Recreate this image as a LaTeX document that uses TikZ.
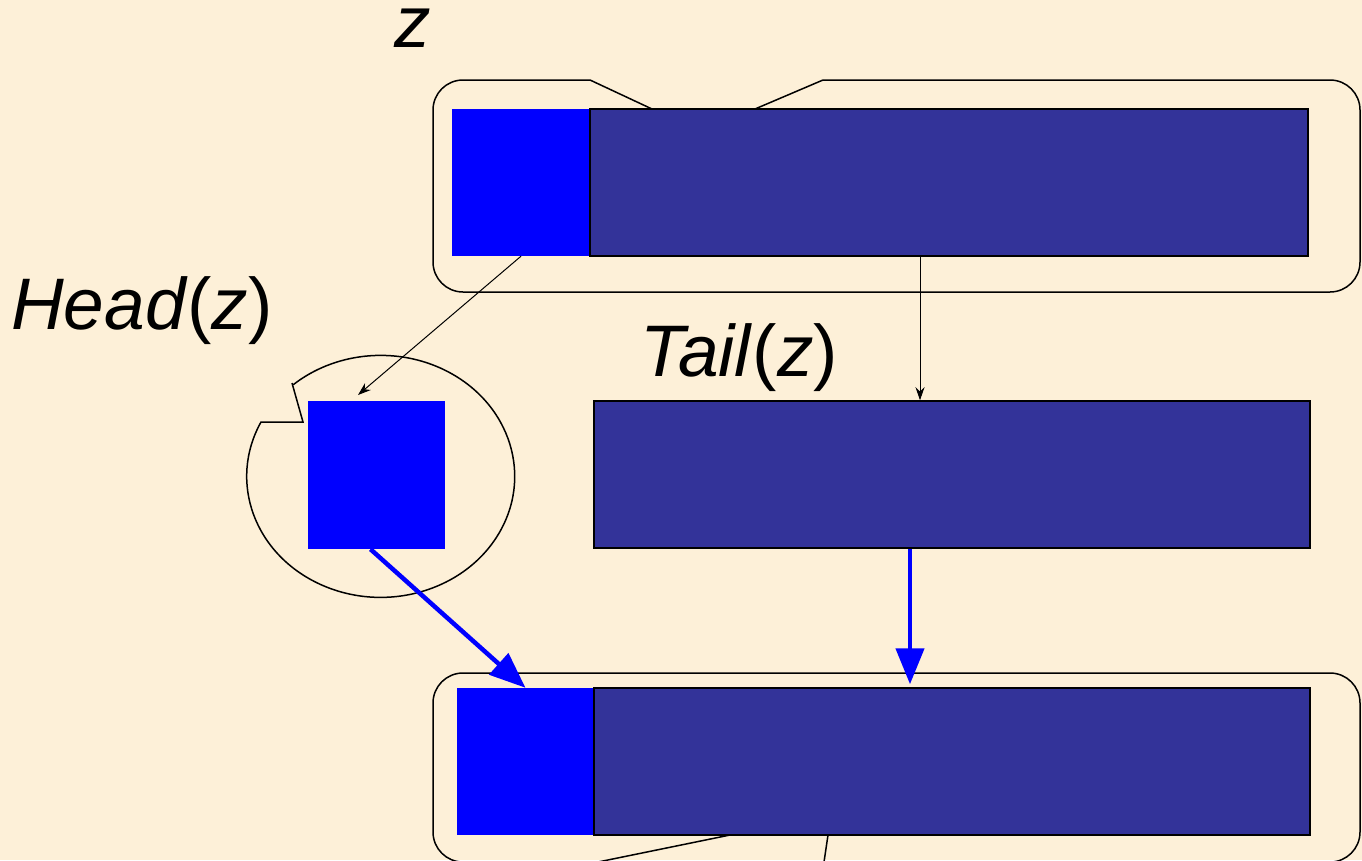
\documentclass[tikz,border=0pt]{standalone}
\usepackage{fontspec}
\setmainfont{Liberation Sans}
\usetikzlibrary{arrows.meta}
\definecolor{paper}{RGB}{253,240,216}
\definecolor{cellblue}{RGB}{0,0,255}
\definecolor{celldark}{RGB}{51,51,153}
\tikzset{
  outline/.style={draw=black, line width=1.5pt},
  headcell/.style={fill=cellblue, draw=none, inner sep=0pt},
  tailcell/.style={fill=celldark, draw=black, line width=1.5pt, inner sep=0pt},
  thinarrow/.style={draw=black, line width=1pt, -{Stealth[length=13pt,width=9pt]}},
  bluearrow/.style={draw=cellblue, line width=4.5pt, -{Triangle[length=36pt,width=28pt]}},
  lbl/.style={font=\fontsize{73}{80}\selectfont, inner sep=0pt, anchor=base west},
}
\begin{document}
\begin{tikzpicture}[x=1pt, y=-1pt]
  \useasboundingbox (0,0) rectangle (1362,860);
  \fill[paper] (0,0) rectangle (1362,860);

  % callout outlines around the lists
  \draw[outline, rounded corners=30pt] (590,80) -- (433,80) -- (433,292) -- (1360,292) -- (1360,80) -- (823,80);
  \draw[outline] (590,80) -- (652,109);
  \draw[outline] (823,80) -- (755,109);
  \draw[outline, rounded corners=30pt] (598,862) -- (433,862) -- (433,673) -- (1360,673) -- (1360,862) -- (824,862);
  \draw[outline] (730,835) -- (598,862);
  \draw[outline] (828,835) -- (824,862);

  % oval callout around the head element
  \draw[outline] (292,383) -- (303,422) -- (261,422)
    arc[start angle=206.7, end angle=-130.6, x radius=134, y radius=121];

  % list z
  \node[headcell, minimum width=138pt, minimum height=147pt] (zh) at (521,182.5) {};
  \node[tailcell, minimum width=718pt, minimum height=147pt] (zt) at (949,182.5) {};
  % Head(z)
  \node[headcell, minimum width=137pt, minimum height=148pt] (h) at (376.5,475) {};
  % Tail(z)
  \node[tailcell, minimum width=716pt, minimum height=147pt] (t) at (952,474.5) {};
  % resulting list
  \node[headcell, minimum width=137pt, minimum height=147pt] (rh) at (525.5,761.5) {};
  \node[tailcell, minimum width=716pt, minimum height=147pt] (rt) at (952,761.5) {};

  \coordinate (hin) at (358,395);
  \coordinate (tx) at (920,0);
  \coordinate (bx) at (910,0);

  \draw[thinarrow] (zh.south) -- (hin);
  \draw[thinarrow] (zt.south -| tx) -- (t.north -| tx);
  \draw[bluearrow] (h.south) ++(-6,0) -- (rh.north);
  \draw[bluearrow] (t.south -| bx) -- ([yshift=3pt]rt.north -| bx);

  % labels
  \node[lbl] (zlbl) at (394,47) {\itshape z};
  \node[lbl] (hlbl) at (11,329) {\textit{Head}(\textit{z})};
  \node[lbl] (tlbl) at (640,376) {\textit{Tail}(\textit{z})};
\end{tikzpicture}
\end{document}
